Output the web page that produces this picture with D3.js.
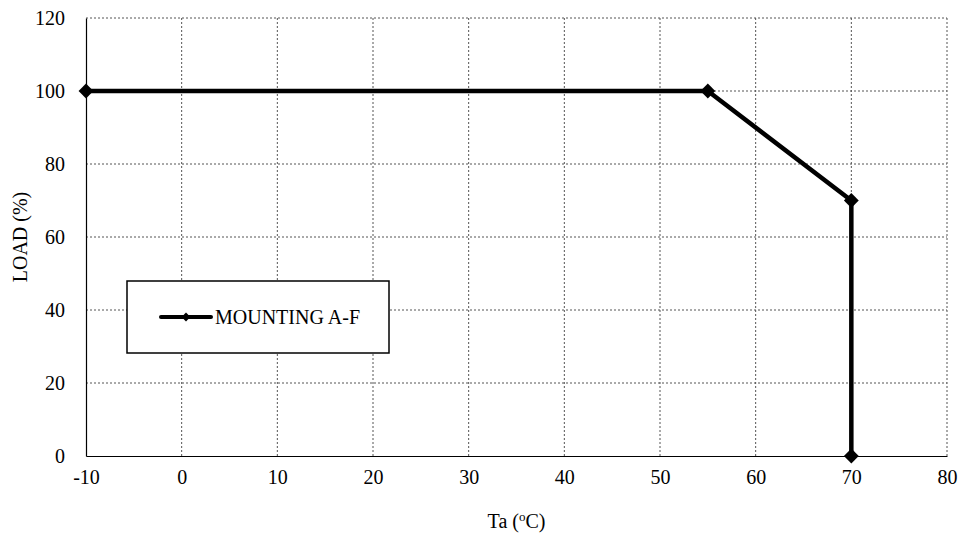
<!DOCTYPE html>
<html>
<head>
<meta charset="utf-8">
<script src="https://cdn.jsdelivr.net/npm/d3@7"></script>
<style>
  body { margin: 0; background: #fff; }
  svg text { font-family: "Liberation Serif", "Times New Roman", serif; fill: #000; }
</style>
</head>
<body>
<div id="chart"></div>
<script>
const temps = [-10, 55, 70, 70];
const loads = [100, 100, 70, 0];
const xTicks = [-10, 0, 10, 20, 30, 40, 50, 60, 70, 80];
const yTicks = [0, 20, 40, 60, 80, 100, 120];
const seriesName = 'MOUNTING A-F';

const width = 965, height = 538;
const margin = { left: 86, right: 18, top: 18, bottom: 82 };

const svg = d3.select('#chart').append('svg')
  .attr('width', width)
  .attr('height', height);

const x = d3.scaleLinear().domain([-10, 80]).range([margin.left, width - margin.right]);
const y = d3.scaleLinear().domain([0, 120]).range([height - margin.bottom, margin.top]);

// grid
const grid = svg.append('g')
  .attr('stroke', '#555')
  .attr('stroke-width', 1)
  .attr('stroke-dasharray', '2,2');

grid.selectAll('.gx')
  .data(xTicks.slice(1))
  .enter().append('line')
  .attr('x1', d => x(d)).attr('x2', d => x(d))
  .attr('y1', y(0)).attr('y2', y(120));

grid.selectAll('.gy')
  .data(yTicks.slice(1))
  .enter().append('line')
  .attr('x1', x(-10)).attr('x2', x(80))
  .attr('y1', d => y(d)).attr('y2', d => y(d));

// axes (left + bottom solid)
const xAxis = svg.append('g')
  .attr('transform', `translate(0,${y(0)})`)
  .call(d3.axisBottom(x).tickValues(xTicks).tickFormat(d => String(d)).tickSize(0).tickPadding(14));
xAxis.select('.domain').attr('stroke', '#000').attr('stroke-width', 1.2);
xAxis.selectAll('text').attr('font-size', 20).style('font-family', '"Liberation Serif", serif');

const yAxis = svg.append('g')
  .attr('transform', `translate(${x(-10)},0)`)
  .call(d3.axisLeft(y).tickValues(yTicks).tickFormat(d => String(d)).tickSize(0).tickPadding(21));
yAxis.select('.domain').attr('stroke', '#000').attr('stroke-width', 1.2);
yAxis.selectAll('text').attr('font-size', 20).style('font-family', '"Liberation Serif", serif');

// axis titles
const xt = svg.append('text')
  .attr('x', (x(-10) + x(80)) / 2)
  .attr('y', 528)
  .attr('text-anchor', 'middle')
  .attr('font-size', 20);
xt.append('tspan').text('Ta (');
xt.append('tspan').attr('font-size', 13).attr('dy', -7).text('o');
xt.append('tspan').attr('dy', 7).text('C)');

svg.append('text')
  .attr('transform', `translate(27,${(y(0) + y(120)) / 2}) rotate(-90)`)
  .attr('text-anchor', 'middle')
  .attr('font-size', 20)
  .text('LOAD (%)');

// series
const pts = temps.map((t, i) => [t, loads[i]]);
const line = d3.line().x(d => x(d[0])).y(d => y(d[1]));

svg.append('path')
  .datum(pts)
  .attr('d', line)
  .attr('fill', 'none')
  .attr('stroke', '#000')
  .attr('stroke-width', 4.5)
  .attr('stroke-linejoin', 'round');

const diamond = d3.symbol().type(d3.symbolDiamond2).size(140);
svg.selectAll('.pt')
  .data(pts)
  .enter().append('path')
  .attr('d', diamond)
  .attr('transform', d => `translate(${x(d[0])},${y(d[1])})`)
  .attr('fill', '#000');

// legend
const lg = svg.append('g');
lg.append('rect')
  .attr('x', 127).attr('y', 281)
  .attr('width', 262).attr('height', 72)
  .attr('fill', '#fff')
  .attr('stroke', '#000')
  .attr('stroke-width', 1.5);
lg.append('line')
  .attr('x1', 161).attr('x2', 211)
  .attr('y1', 317).attr('y2', 317)
  .attr('stroke', '#000')
  .attr('stroke-width', 4)
  .attr('stroke-linecap', 'round');
lg.append('path')
  .attr('d', d3.symbol().type(d3.symbolDiamond2).size(50))
  .attr('transform', 'translate(186,317)')
  .attr('fill', '#000');
lg.append('text')
  .attr('x', 215).attr('y', 324)
  .attr('font-size', 20)
  .text(seriesName);
</script>
</body>
</html>
